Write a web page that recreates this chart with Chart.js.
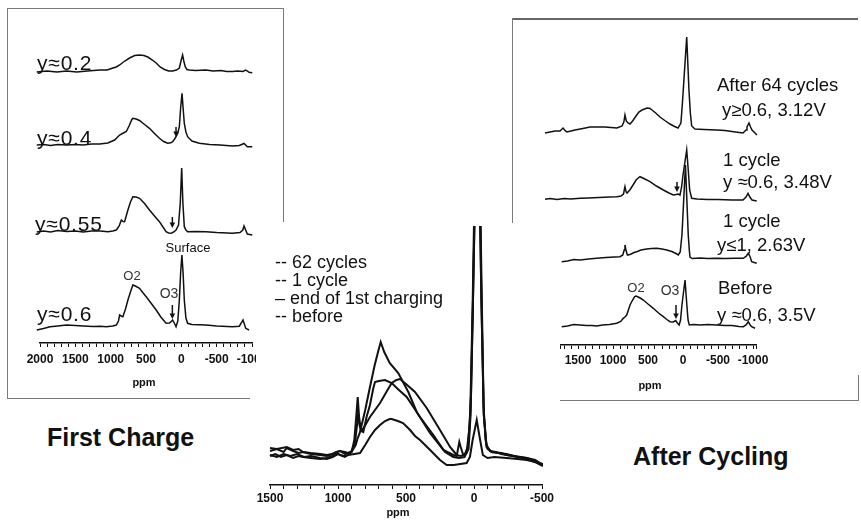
<!DOCTYPE html>
<html>
<head>
<meta charset="utf-8">
<title>7Li NMR spectra – first charge and after cycling</title>
<script src="https://cdn.jsdelivr.net/npm/chart.js@4.4.1/dist/chart.umd.min.js"></script>
<style>
  html, body { margin: 0; padding: 0; background: #fff; }
  #page { position: relative; width: 861px; height: 526px; overflow: hidden; background: #fff;
          font-family: "Liberation Sans", Arial, Helvetica, sans-serif; color: #111; }
  canvas { position: absolute; }
  .lbl { position: absolute; white-space: nowrap; line-height: 1; transform: translateY(-50%); }
  .ctr { transform: translate(-50%, -50%); }
  .rule { position: absolute; background: #7a7a7a; }
  .big { font-size: 21px; letter-spacing: 0.8px; }
  .cap { font-size: 18.5px; }
  .leg { font-size: 18px; }
  .ttl { font-size: 25px; font-weight: bold; }
  .ppm { font-size: 11px; font-weight: bold; }
  .pk  { font-size: 13px; color: #333; }
</style>
</head>
<body>
<div id="page">
  <!-- panel frames -->
  <div class="rule" style="left:7px;top:8px;width:1px;height:390px"></div>
  <div class="rule" style="left:7px;top:8px;width:276px;height:1px"></div>
  <div class="rule" style="left:283px;top:8px;width:1px;height:214px"></div>
  <div class="rule" style="left:7px;top:398px;width:243px;height:1px"></div>

  <div class="rule" style="left:512px;top:18px;width:346px;height:1.5px;background:#666"></div>
  <div class="rule" style="left:512px;top:18px;width:1px;height:205px"></div>
  <div class="rule" style="left:560px;top:400px;width:299px;height:1px"></div>
  <div class="rule" style="left:858px;top:375px;width:1px;height:25px"></div>

  <div style="position:absolute;left:0;top:0;width:256px;height:400px;overflow:hidden">
    <canvas id="firstCharge" width="300" height="400" style="left:0;top:0"></canvas>
  </div>
  <canvas id="overlay" width="340" height="326" style="left:240px;top:200px"></canvas>
  <canvas id="afterCycling" width="330" height="400" style="left:530px;top:0"></canvas>

  <!-- First Charge labels -->
  <div class="lbl big" style="left:37px;top:62px">y≈0.2</div>
  <div class="lbl big" style="left:37px;top:137px">y≈0.4</div>
  <div class="lbl big" style="left:35px;top:223px">y≈0.55</div>
  <div class="lbl big" style="left:37px;top:313px">y≈0.6</div>
  <div class="lbl pk ctr" style="left:132px;top:275px">O2</div>
  <div class="lbl pk ctr" style="left:169px;top:293px;font-size:14px">O3</div>
  <div class="lbl pk ctr" style="left:188px;top:247px;color:#111">Surface</div>
  <div class="lbl ppm ctr" style="left:144px;top:382px">ppm</div>
  <div class="lbl ttl" style="left:47px;top:437px">First Charge</div>

  <!-- overlay legend -->
  <div class="lbl leg" style="left:275px;top:262px">-- 62 cycles</div>
  <div class="lbl leg" style="left:275px;top:280px">-- 1 cycle</div>
  <div class="lbl leg" style="left:275px;top:298px">– end of 1st charging</div>
  <div class="lbl leg" style="left:275px;top:316px">-- before</div>
  <div class="lbl ppm ctr" style="left:398px;top:512px">ppm</div>

  <!-- After Cycling labels -->
  <div class="lbl cap" style="left:717px;top:85px">After 64 cycles</div>
  <div class="lbl cap" style="left:722px;top:110px">y≥0.6, 3.12V</div>
  <div class="lbl cap" style="left:723px;top:160px">1 cycle</div>
  <div class="lbl cap" style="left:723px;top:182px">y ≈0.6, 3.48V</div>
  <div class="lbl cap" style="left:723px;top:221px">1 cycle</div>
  <div class="lbl cap" style="left:717px;top:245px">y≤1, 2.63V</div>
  <div class="lbl cap" style="left:718px;top:288px">Before</div>
  <div class="lbl cap" style="left:717px;top:315px">y ≈0.6, 3.5V</div>
  <div class="lbl pk ctr" style="left:636px;top:287px">O2</div>
  <div class="lbl pk ctr" style="left:670px;top:290px;font-size:14px">O3</div>
  <div class="lbl ppm ctr" style="left:650px;top:385px">ppm</div>
  <div class="lbl ttl" style="left:633px;top:456px">After Cycling</div>
</div>

<script>
// ---- labelled shift ticks (ppm) for each panel ----
const fcTickLabels = [2000, 1500, 1000, 500, 0, -500, -1000];
const ovTickLabels = [1500, 1000, 500, 0, -500];
const acTickLabels = [1500, 1000, 500, 0, -500, -1000];

// ---- First charge spectra: [shift (ppm), stacked intensity] ----
const fcY02 = [[2046,271],[1900,272],[1760,271],[1624,272],[1480,271],[1330,272],[1155,273],[1050,273],
  [968,275],[920,276],[873,278],[800,282],[732,285],[660,287.5],[592,288],[530,287.5],[475,286],[410,283],
  [356,280],[300,276],[239,273.5],[180,272],[123,272],[70,273],[28,275],[5,282],[-18,288],[-35,282],[-56,276],
  [-80,273.5],[-113,273],[-200,272.5],[-348,273],[-450,272],[-560,272.5],[-640,271.5],[-723,271.5],[-800,272],
  [-870,271.5],[-911,273],[-935,272],[-958,270.7],[-1004,270.3]];
const fcY04 = [[2046,198],[1950,198.5],[1850,197.5],[1750,198.5],[1624,198],[1500,198.5],[1390,198],[1270,199],
  [1155,199],[1040,200],[944,203],[873,208],[820,210],[779,211.5],[740,217],[700,223.5],[686,224.7],[640,224],
  [592,222.5],[520,218.5],[451,214.7],[380,209.5],[310,204.7],[250,201.5],[193,199.7],[150,200.2],[123,201.3],
  [95,204],[75,206.3],[50,210],[28,216.3],[10,235],[-10,249.7],[-25,235],[-42,219.7],[-65,211],[-89,206.3],
  [-150,202],[-254,199.7],[-400,198.5],[-550,198],[-723,197],[-820,197.5],[-870,199],[-887,199.5],[-910,198],
  [-934,196.3],[-1004,196.3]];
const fcY055 = [[2046,111],[1950,112],[1850,111],[1750,112.5],[1624,111.5],[1500,112],[1390,111],[1270,112],
  [1150,112],[1038,111.3],[970,112],[920,113],[880,117],[849,123],[825,121.5],[803,121.3],[780,127],[756,133],
  [720,141],[686,146.3],[640,146],[592,144.7],[520,139.5],[451,133],[380,127],[310,121.3],[250,115],[216,111.3],
  [180,110],[145,109.7],[110,111],[75,113],[40,118],[15,140],[-5,175],[-22,140],[-42,116.3],[-65,113],
  [-89,111.3],[-200,111.5],[-348,111.3],[-500,110.5],[-723,109.7],[-830,110.5],[-870,113],[-887,117],
  [-910,113],[-934,109],[-1004,108]];
const fcY06 = [[2046,13],[1950,14.5],[1859,16.3],[1750,17],[1624,18],[1500,17.5],[1390,17],[1250,16.5],
  [1150,16.8],[1061,16.3],[970,17],[920,18],[890,22],[873,28],[850,27],[827,26.3],[790,34],[756,43],[720,51],
  [686,58],[650,57],[592,54.7],[540,50],[497,46.3],[430,40],[356,33],[290,26],[216,19.7],[170,20],[145,21.3],
  [123,23],[100,20],[75,16.3],[50,22],[28,43],[10,70],[-8,88],[-25,70],[-42,43],[-65,25],[-89,19.7],
  [-150,18.5],[-348,18],[-500,17],[-723,16.3],[-820,16.8],[-873,23],[-911,14.7],[-958,13]];
const fcArrows = [{ ppm: 75, from: 216, to: 206 }, { ppm: 127, from: 126, to: 115 }, { ppm: 127, from: 38, to: 24 }];

// ---- Overlay of the four states: [shift (ppm), intensity] ----
const ovCycles62 = [[1500,29],[1460,31],[1420,28],[1377,30],[1330,27],[1290,29],[1257,28],[1200,27],[1132,26],
  [1083,27],[1040,29],[1010,32],[985,30],[950,28],[926,30],[900,33],[880,45],[865,70],[855,88],[845,68],
  [835,58],[820,55],[765,68],[691,82],[640,94],[605,102],[570,105],[544,106],[500,101],[434,93],[348,77],
  [250,55],[176,38],[127,30],[100,29],[70,30],[45,38],[28,70],[10,180],[-24,460],[-55,180],[-72,70],
  [-92,40],[-118,34],[-160,33],[-200,31],[-240,30],[-300,29],[-388,27],[-450,24],[-507,20]];
const ovCycle1 = [[1500,34],[1450,36],[1400,33],[1377,37],[1330,34],[1290,32],[1257,33],[1200,31],[1132,30],
  [1083,29],[1040,31],[1010,33],[985,34],[950,31],[926,32],[900,34],[875,42],[860,60],[852,72],[842,60],
  [830,54],[814,53],[790,68],[765,80],[740,97],[728,103],[700,104],[654,105],[605,102],[560,96],[495,88],
  [397,68],[299,50],[213,33],[152,28],[110,27],[70,28],[40,36],[25,70],[8,180],[-28,440],[-58,180],
  [-72,70],[-92,38],[-130,33],[-180,32],[-240,31],[-320,28],[-388,26],[-450,23],[-507,21]];
const ovBefore = [[1500,37],[1450,36],[1377,38],[1330,35],[1290,36],[1257,33],[1200,32],[1130,31],[1083,30],
  [1040,31],[1010,33],[985,34],[950,33],[926,32],[900,33],[870,40],[855,47],[840,52],[826,60],[800,75],
  [765,98],[730,120],[700,136],[686,143],[660,133],[620,122],[557,112],[483,93],[421,73],[324,52],
  [225,35],[152,30],[127,29],[115,38],[108,43],[98,38],[79,30],[55,32],[35,55],[22,90],[8,180],[-25,420],
  [-55,180],[-70,80],[-85,45],[-100,36],[-130,33],[-200,32],[-240,30],[-320,28],[-388,27],[-450,25],[-507,20]];
const ovFirstCharge = [[1500,30],[1450,28],[1400,31],[1350,29],[1300,31],[1250,28],[1200,29],[1132,27],
  [1083,26],[1040,28],[1000,31],[960,29],[926,30],[880,31],[838,32],[800,40],[765,48],[728,55],[691,60],
  [654,64],[620,66],[605,66],[560,64],[522,62],[470,55],[434,49],[397,45],[330,36],[250,25],[201,20],
  [150,20],[100,21],[54,22],[30,28],[10,45],[-20,65],[-45,45],[-65,30],[-100,27],[-150,28],[-240,27],
  [-320,26],[-388,25],[-450,23],[-507,19]];

// ---- After cycling spectra: [shift (ppm), stacked intensity] ----
const acCycles64 = [[1971,212],[1900,213],[1829,214],[1757,214],[1714,217],[1680,214],[1657,213],[1543,215],
  [1430,216.5],[1329,218],[1220,218],[1114,218],[1030,217.5],[943,217],[871,219],[845,223],[829,230],
  [810,224],[786,222],[757,221],[720,224],[671,229],[630,233],[586,235],[514,237],[470,236.5],[443,235],
  [390,232],[329,228],[260,224.5],[186,221],[120,218.5],[71,217],[30,222],[10,240],[-53,308],[-85,255],
  [-105,232],[-124,219],[-171,216],[-300,215.5],[-481,215],[-600,214.5],[-750,213],[-857,212],[-900,215],
  [-914,218],[-943,222],[-965,218],[-986,215],[-1057,210]];
const acCycle1High = [[1971,145.7],[1900,146.5],[1800,145.5],[1700,146.5],[1600,146],[1471,146.7],[1350,147],
  [1200,147.5],[1050,148],[947,148.3],[886,149],[850,151],[829,158.3],[812,153],[800,152],[760,155],
  [714,160],[670,165],[640,167],[614,168.3],[560,166.5],[471,163.3],[380,159],[281,155],[200,152],[139,150],
  [100,150.5],[70,151],[43,150],[20,158],[0,170],[-53,195],[-75,175],[-95,155],[-124,146.7],[-200,146],
  [-350,145.5],[-500,145.5],[-700,145],[-857,145],[-900,148],[-929,151.7],[-955,148],[-986,145],[-1053,144]];
const acCycle1Low = [[1733,83.3],[1650,84],[1560,85.5],[1471,85],[1350,86],[1233,86.7],[1100,87.5],[980,88],
  [900,88.3],[860,90],[840,95],[829,100],[815,95],[795,90],[781,90],[740,91],[700,92.5],[661,93.3],[600,95],
  [520,96],[450,96.5],[376,96.7],[300,96],[233,95],[160,93.5],[100,91.5],[67,90],[40,93],[15,110],
  [-35,180],[-75,110],[-90,95],[-100,88],[-130,86.5],[-250,87],[-350,86.5],[-481,86.7],[-600,86.5],
  [-750,86.7],[-861,86.7],[-900,88.5],[-933,91.7],[-960,88],[-981,83.3],[-1053,81.7]];
const acBefore = [[1733,18.3],[1650,19],[1560,20.5],[1471,20],[1380,19.5],[1300,19.5],[1233,19],[1150,20],
  [1050,20.5],[947,21.7],[890,23.5],[853,26.7],[830,28],[804,30],[780,35],[757,40],[720,45],[690,48.5],
  [671,49],[640,48],[600,46.5],[567,45],[500,41],[424,36.7],[350,32],[281,28.3],[230,25.5],[186,23.3],
  [140,23],[104,24.5],[80,22],[55,20],[35,25],[15,40],[-29,65],[-55,40],[-72,25],[-90,20],[-150,20.5],
  [-250,20],[-350,20.5],[-481,20],[-600,19.5],[-700,19.5],[-800,18.5],[-861,18.3],[-900,20],[-933,23.3],
  [-960,20],[-981,18.3],[-1029,16.7]];
const acArrows = [{ ppm: 86, from: 163, to: 153 }, { ppm: 100, from: 40, to: 26 }];

const FONT = '"Liberation Sans", Arial, Helvetica, sans-serif';

// small down-pointing arrows marking the O3 resonance
const arrowPlugin = {
  id: 'arrows',
  afterDatasetsDraw(chart, args, opts) {
    const items = opts.items || [];
    const { ctx } = chart;
    const xs = chart.scales.x, ys = chart.scales.y;
    ctx.save();
    ctx.strokeStyle = '#111';
    ctx.fillStyle = '#111';
    ctx.lineWidth = 1.5;
    items.forEach(a => {
      const px = xs.getPixelForValue(a.ppm);
      const y1 = ys.getPixelForValue(a.from);
      const y2 = ys.getPixelForValue(a.to);
      ctx.beginPath();
      ctx.moveTo(px, y1);
      ctx.lineTo(px, y2 - 3);
      ctx.stroke();
      ctx.beginPath();
      ctx.moveTo(px - 2.8, y2 - 5.5);
      ctx.lineTo(px + 2.8, y2 - 5.5);
      ctx.lineTo(px, y2);
      ctx.closePath();
      ctx.fill();
    });
    ctx.restore();
  }
};

// minor tick every 100 ppm across the axis, labels only on the listed shifts
function tickList(lo, hi, labels) {
  const vals = [];
  for (let v = Math.ceil(lo / 100) * 100; v <= hi; v += 100) vals.push(v);
  if (vals[0] !== lo) vals.unshift(lo);
  if (vals[vals.length - 1] !== hi) vals.push(hi);
  return { vals, labels };
}

function spectrumChart(id, o) {
  const tk = tickList(o.xMin, o.xMax, o.tickLabels);
  return new Chart(document.getElementById(id), {
    type: 'line',
    data: {
      datasets: o.traces.map(t => ({
        data: t.map(([x, y]) => ({ x, y })),
        borderColor: '#111',
        borderWidth: o.lineWidth,
        pointRadius: 0,
        tension: 0,
        fill: false,
        clip: o.clip
      }))
    },
    options: {
      responsive: false,
      animation: false,
      events: [],
      layout: { padding: o.padding },
      plugins: {
        legend: { display: false },
        tooltip: { enabled: false },
        arrows: { items: o.arrows || [] }
      },
      scales: {
        x: {
          type: 'linear',
          reverse: true,
          min: o.xMin,
          max: o.xMax,
          border: { display: true, color: '#111', width: 1.5 },
          grid: { display: true, drawOnChartArea: false, drawTicks: true, tickLength: 4, color: '#111', lineWidth: 1 },
          ticks: {
            autoSkip: false,
            maxRotation: 0,
            minRotation: 0,
            padding: o.tickPad,
            color: '#111',
            font: { family: FONT, size: 12, weight: 'bold' },
            callback: v => (tk.labels.includes(v) ? String(v) : '')
          },
          afterBuildTicks: s => { s.ticks = tk.vals.map(v => ({ value: v })); },
          afterFit: s => { s.height = o.axisHeight; s.paddingLeft = 0; s.paddingRight = 0; }
        },
        y: { display: false, min: 0, max: o.yMax }
      }
    },
    plugins: [arrowPlugin]
  });
}

spectrumChart('firstCharge', {
  traces: [fcY02, fcY04, fcY055, fcY06],
  arrows: fcArrows, tickLabels: fcTickLabels,
  lineWidth: 1.5, clip: false,
  xMin: -1000, xMax: 2000, yMax: 313,
  padding: { left: 40, right: 48, top: 30, bottom: 12 }, axisHeight: 45, tickPad: 5
});

spectrumChart('overlay', {
  traces: [ovCycles62, ovCycle1, ovBefore, ovFirstCharge],
  tickLabels: ovTickLabels,
  lineWidth: 2, clip: 1,
  xMin: -500, xMax: 1500, yMax: 258,
  padding: { left: 30, right: 38, top: 27, bottom: 7 }, axisHeight: 34, tickPad: 2
});

spectrumChart('afterCycling', {
  traces: [acCycles64, acCycle1High, acCycle1Low, acBefore],
  arrows: acArrows, tickLabels: acTickLabels,
  lineWidth: 1.5, clip: false,
  xMin: -1050, xMax: 1750, yMax: 320,
  padding: { left: 30.5, right: 103.5, top: 25, bottom: 8 }, axisHeight: 47, tickPad: 4
});
</script>
</body>
</html>
